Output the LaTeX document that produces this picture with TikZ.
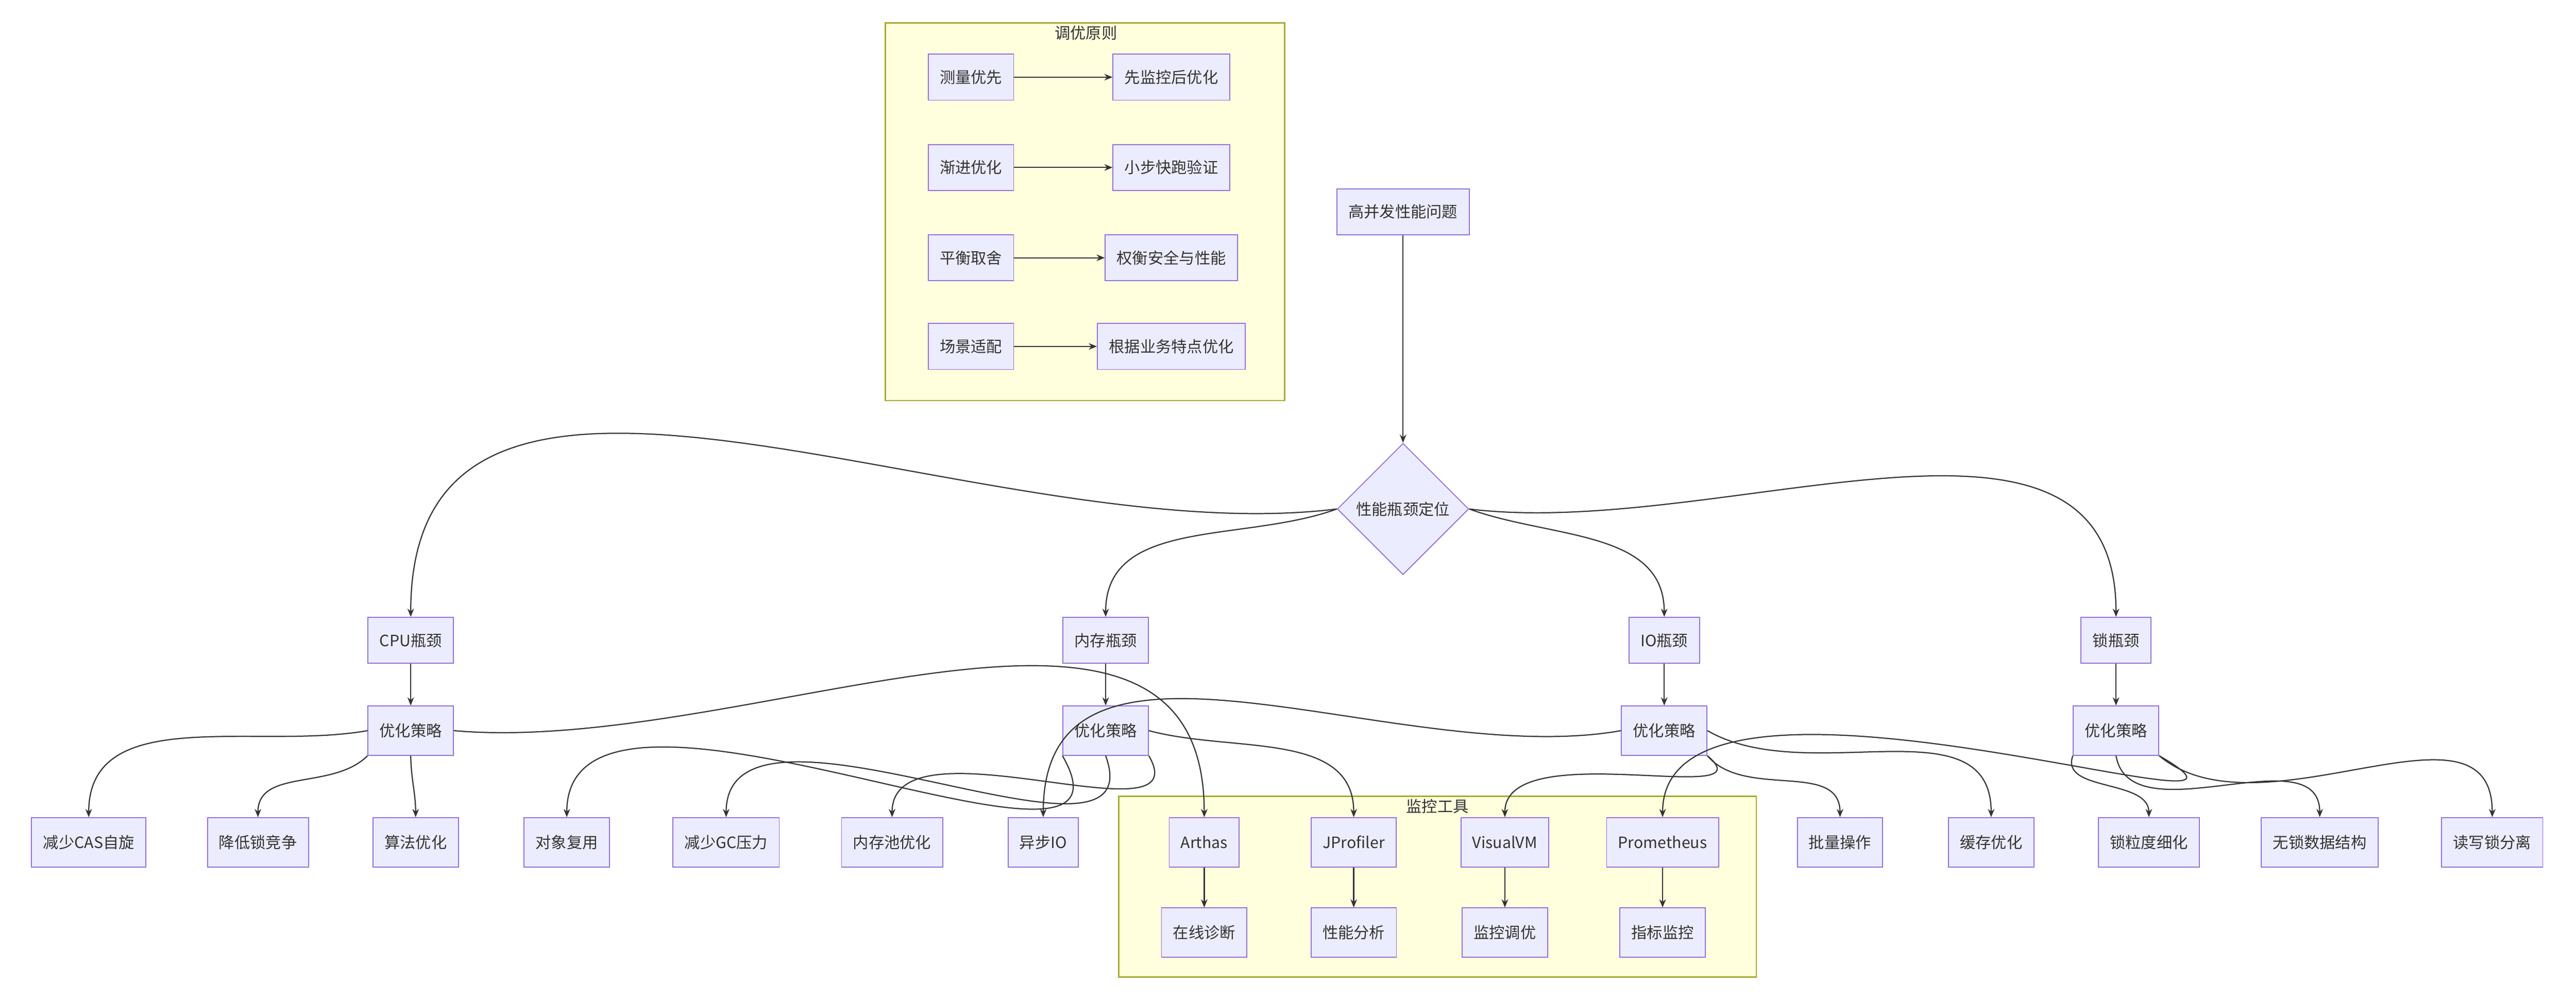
\documentclass[tikz,border=0pt]{standalone}
\usepackage{fontspec}
\setmainfont{Noto Sans CJK SC}
\usetikzlibrary{arrows.meta,shapes.geometric}
\definecolor{boxfill}{HTML}{ECECFF}
\definecolor{boxline}{HTML}{9370DB}
\definecolor{grpfill}{HTML}{FFFFDE}
\definecolor{grpline}{HTML}{AAAA33}
\definecolor{ink}{HTML}{333333}
\begin{document}
\begin{tikzpicture}[x=1pt,y=-1pt,>={Stealth[length=5pt,width=4pt]},
    font=\fontsize{9.5pt}{11pt}\selectfont,text=ink]
\tikzstyle{box}=[draw=boxline,fill=boxfill,line width=0.6pt,minimum height=28pt,inner xsep=7pt]
\tikzstyle{group}=[draw=grpline,fill=grpfill,line width=0.8pt]
\tikzstyle{edge}=[->,draw=ink,line width=0.7pt]

\useasboundingbox (0,0) rectangle (1568,610);

% groups
\draw[group] (539,14) rectangle (782,244);
\node (principles) at (661,20) {调优原则};
\draw[group] (681,485) rectangle (1069,595);
\node (tools) at (875,491) {监控工具};

% principles
\node[box] (p1) at (591,47) {测量优先};
\node[box] (q1) at (713,47) {先监控后优化};
\node[box] (p2) at (591,102) {渐进优化};
\node[box] (q2) at (713,102) {小步快跑验证};
\node[box] (p3) at (591,157) {平衡取舍};
\node[box] (q3) at (713,157) {权衡安全与性能};
\node[box] (p4) at (591,211) {场景适配};
\node[box] (q4) at (713,211) {根据业务特点优化};
\foreach \i in {1,...,4} \draw[edge] (p\i) -- (q\i);

% top
\node[box] (issue) at (854,129) {高并发性能问题};
\node[draw=boxline,fill=boxfill,line width=0.6pt,diamond,aspect=1,minimum size=80pt,inner sep=0pt] (locate) at (854,310) {性能瓶颈定位};
\draw[edge] (issue) -- (locate);

% bottlenecks
\node[box] (cpu) at (250,390) {CPU瓶颈};
\node[box] (mem) at (673,390) {内存瓶颈};
\node[box] (io) at (1013,390) {IO瓶颈};
\node[box] (lock) at (1288,390) {锁瓶颈};
\draw[edge] (locate.west) to[out=187,in=90] (cpu.north);
\draw[edge] (locate.west) to[out=200,in=90] (mem.north);
\draw[edge] (locate.east) to[out=-20,in=90] (io.north);
\draw[edge] (locate.east) to[out=-7,in=90] (lock.north);
\node[box,minimum height=30pt] (cpuS) at (250,445) {优化策略};
\node[box,minimum height=30pt] (memS) at (673,445) {优化策略};
\node[box,minimum height=30pt] (ioS) at (1013,445) {优化策略};
\node[box,minimum height=30pt] (lockS) at (1288,445) {优化策略};
\foreach \b in {cpu,mem,io,lock} \draw[edge] (\b) -- (\b S);

% leaves
\node[box,minimum height=30pt] (cas) at (54,513) {减少CAS自旋};
\node[box,minimum height=30pt] (contend) at (157,513) {降低锁竞争};
\node[box,minimum height=30pt] (algo) at (253,513) {算法优化};
\node[box,minimum height=30pt] (reuse) at (345,513) {对象复用};
\node[box,minimum height=30pt] (gc) at (442,513) {减少GC压力};
\node[box,minimum height=30pt] (pool) at (543,513) {内存池优化};
\node[box,minimum height=30pt] (aio) at (635,513) {异步IO};
\node[box,minimum height=30pt] (arthas) at (733,513) {Arthas};
\node[box,minimum height=30pt] (jprof) at (824,513) {JProfiler};
\node[box,minimum height=30pt] (vvm) at (916,513) {VisualVM};
\node[box,minimum height=30pt] (prom) at (1012,513) {Prometheus};
\node[box,minimum height=30pt] (batch) at (1120,513) {批量操作};
\node[box,minimum height=30pt] (cache) at (1212,513) {缓存优化};
\node[box,minimum height=30pt] (grain) at (1308,513) {锁粒度细化};
\node[box,minimum height=30pt] (lockfree) at (1412,513) {无锁数据结构};
\node[box,minimum height=30pt] (rwlock) at (1517,513) {读写锁分离};
\node[box,minimum height=30pt] (online) at (733,568) {在线诊断};
\node[box,minimum height=30pt] (profile) at (824,568) {性能分析};
\node[box,minimum height=30pt] (tune) at (916,568) {监控调优};
\node[box,minimum height=30pt] (metric) at (1012,568) {指标监控};
\foreach \a/\b in {arthas/online,jprof/profile,vvm/tune,prom/metric} \draw[edge] (\a) -- (\b);

% strategy edges
\draw[edge] (cpuS.west) to[out=190,in=90] (cas.north);
\draw[edge] (cpuS.south west) to[out=225,in=90] (contend.north);
\draw[edge] (cpuS.south) to[out=-89,in=90] (algo.north);
\draw[edge] (cpuS.east) to[out=-5,in=90] (arthas.north);
\draw[edge] (memS.south west) to[out=-60,in=90] (reuse.north);
\draw[edge] (memS.south) to[out=-70,in=90] (gc.north);
\draw[edge] (memS.south east) to[out=-60,in=90] (pool.north);
\draw[edge] (memS.east) to[out=-15,in=90] (jprof.north);
\draw[edge] (ioS.west) to[out=190,in=90] (aio.north);
\draw[edge] (ioS.south east) to[out=-40,in=90] (vvm.north);
\draw[edge] (ioS.south east) to[out=-50,in=90] (batch.north);
\draw[edge] (ioS.east) to[out=-30,in=90] (cache.north);
\draw[edge] (lockS.south west) to[out=-110,in=90] (grain.north);
\draw[edge] (lockS.south) to[out=-80,in=90] (lockfree.north);
\draw[edge] (lockS.south east) to[out=-40,in=90] (rwlock.north);
\draw[edge] (lockS.south east) to[out=-30,in=90] (prom.north);
\end{tikzpicture}
\end{document}
